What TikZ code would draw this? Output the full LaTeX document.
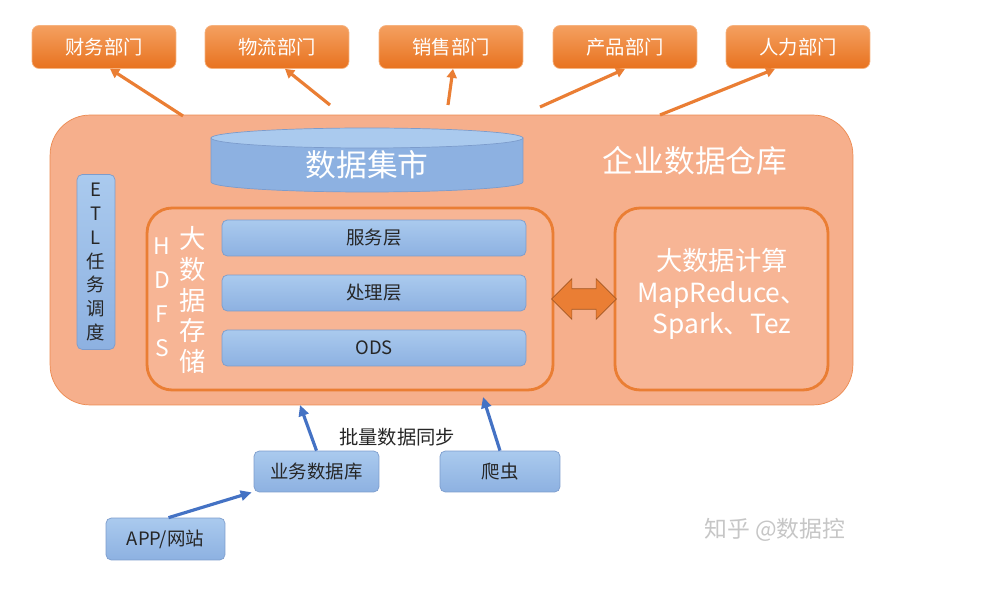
\documentclass[tikz,border=0pt]{standalone}
\usepackage{fontspec}
\setmainfont{Noto Sans CJK SC}
\usepackage{tikz}
\usetikzlibrary{arrows.meta,positioning,calc,shapes.arrows}
\definecolor{deptTop}{HTML}{F4A060}
\definecolor{deptBot}{HTML}{E8721F}
\definecolor{dwFill}{HTML}{F6AF8C}
\definecolor{dwLine}{HTML}{EC8A50}
\definecolor{orLine}{HTML}{EA7E34}
\definecolor{blTop}{HTML}{AACAEE}
\definecolor{blBot}{HTML}{8DB1E1}
\definecolor{blLine}{HTML}{7C9CCC}
\definecolor{blArr}{HTML}{4472C4}
\definecolor{txt}{HTML}{262626}

\begin{document}
\begin{tikzpicture}[
  x=0.02cm, y=-0.02cm,
  dept/.style={rounded corners=4pt, top color=deptTop, bottom color=deptBot, draw=deptTop!80!white,
    minimum width=2.88cm, minimum height=0.86cm, text=white, font=\fontsize{11}{13}\selectfont},
  bluebox/.style={rounded corners=3pt, top color=blTop, bottom color=blBot, draw=blLine,
    text=txt, font=\fontsize{10.5}{13}\selectfont},
  layer/.style={bluebox, minimum width=6.08cm, minimum height=0.72cm},
  inbox/.style={rounded corners=0.5cm, draw=orLine, line width=1.6pt, fill=dwFill!92!white,
    minimum height=3.64cm},
  oarr/.style={-{Triangle[length=1.8mm,width=2mm]}, draw=orLine, line width=1.8pt},
  barr/.style={-{Triangle[length=2.2mm,width=2mm]}, draw=blArr, line width=1.8pt},
  wt/.style={text=white, align=center},
]
\useasboundingbox (0,0) rectangle (997,594);
% departments
\foreach \n/\x/\t in {fin/104/财务部门, log/277/物流部门, sal/451/销售部门, prd/625/产品部门, hr/798/人力部门}
  \node[dept] (\n) at (\x,47) {\t};
% warehouse
\node[rounded corners=0.8cm, fill=dwFill, draw=dwLine, minimum width=16.06cm, minimum height=5.8cm] (dw) at (451.5,260) {};
\node[wt, font=\fontsize{17.5}{20}\selectfont] (dwT) at (695,161) {企业数据仓库};
% data mart cylinder
\fill[blBot, draw=blLine] (211,138) -- (211,182) arc[start angle=180, end angle=360, x radius=3.12cm, y radius=0.2cm] -- (523,138) -- cycle;
\filldraw[fill=blTop, draw=blLine] (367,138) ellipse[x radius=3.12cm, y radius=0.2cm];
\node[wt, font=\fontsize{17.5}{20}\selectfont] (mart) at (367,165) {数据集市};
% etl
\node[bluebox, minimum width=0.76cm, minimum height=3.5cm, align=center, inner sep=1pt,
  font=\fontsize{10.5}{13.6}\selectfont] (etl) at (96,262) {E\\T\\L\\任\\务\\调\\度};
% storage
\node[inbox, minimum width=8.12cm] (hdfs) at (350,299) {};
\node[wt, font=\fontsize{13}{19.3}\selectfont] (hdfsA) at (162,297) {H\\D\\F\\S};
\node[wt, font=\fontsize{15}{17.6}\selectfont] (hdfsB) at (193,300) {大\\数\\据\\存\\储};
\node[layer] (srv) at (374,238) {服务层};
\node[layer] (proc) at (374,293) {处理层};
\node[layer] (ods) at (374,348) {ODS};
% compute
\node[inbox, minimum width=4.26cm] (comp) at (721.5,299) {};
\node[wt, font=\fontsize{15}{18}\selectfont] (compT) at (722,294) {大数据计算\\MapReduce、\\Spark、Tez};
\node[double arrow, double arrow head extend=0.2cm, minimum height=1.3cm,
  inner xsep=0pt, inner ysep=0.2cm, fill=orLine, draw=orLine!70!black, line width=0.4pt] (link) at ($(hdfs.east)!0.5!(comp.west)$) {};
% arrows to departments
\coordinate (s1) at (183,116);
\coordinate (s2) at (330,105);
\coordinate (s3) at (448,105);
\coordinate (s4) at (540,107);
\coordinate (s5) at (660,115);
\draw[oarr] (s1) -- ($(fin.south)+(6,0)$);
\draw[oarr] (s2) -- ($(log.south)+(8,0)$);
\draw[oarr] (s3) -- ($(sal.south)+(2,0)$);
\draw[oarr] (s4) -- (prd.south);
\draw[oarr] (s5) -- ($(hr.south)+(-23,0)$);
% sources
\node[bluebox, minimum width=2.5cm, minimum height=0.82cm] (db) at (316.5,471.5) {业务数据库};
\node[bluebox, minimum width=2.4cm, minimum height=0.82cm] (crawl) at (500,471.5) {爬虫};
\node[bluebox, minimum width=2.38cm, minimum height=0.84cm] (app) at (165.5,539) {APP/网站};
\coordinate (t1) at (300,405);
\coordinate (t2) at (483,397);
\draw[barr] (db.north) -- (t1);
\draw[barr] (crawl.north) -- (t2);
\draw[barr] ($(app.north)+(3,0)$) -- ($(db.south west)+(-2,0)$);
\node[text=txt, font=\fontsize{11}{13}\selectfont] (sync) at (397,437) {批量数据同步};
\node[text=gray!45, font=\fontsize{13}{15}\selectfont] (mark) at (775,530) {知乎 @数据控};
\end{tikzpicture}
\end{document}
